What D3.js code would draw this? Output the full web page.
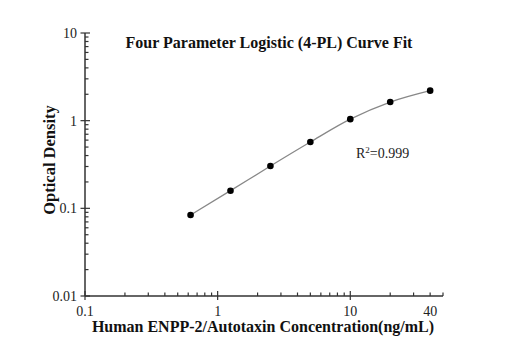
<!DOCTYPE html>
<html><head><meta charset="utf-8">
<script src="https://cdn.jsdelivr.net/npm/d3@7"></script>
<style>body{margin:0;background:#fff}svg{display:block}</style>
</head><body>
<script>
const concentrations = [0.625, 1.25, 2.5, 5, 10, 20, 40];
const odValues = [0.084, 0.159, 0.304, 0.571, 1.04, 1.63, 2.20];
const xTickValues = [0.1, 1, 10, 40];
const yTickValues = [0.01, 0.1, 1, 10];
const xMinorTicks = [0.2,0.3,0.4,0.5,0.6,0.7,0.8,0.9,2,3,4,5,6,7,8,9,20,30,40,50];
const yMinorTicks = [];
[0.01,0.1,1].forEach(d=>{for(let k=2;k<=9;k++) yMinorTicks.push(+(d*k).toPrecision(3));});
const titleText = "Four Parameter Logistic (4-PL) Curve Fit";
const xTitle = "Human ENPP-2/Autotaxin Concentration(ng/mL)";
const yTitle = "Optical Density";
const r2Text = "0.999";

const W=512,H=355;
const svg=d3.select("body").append("svg").attr("width",W).attr("height",H);
const x=d3.scaleLog().domain([0.1,50]).range([85,443]);
const y=d3.scaleLog().domain([0.01,10]).range([296,33]);
const axisColor="#333";
const serif="'Liberation Serif','Times New Roman',serif";

svg.append("line").attr("x1",x(0.1)).attr("x2",x(50)).attr("y1",296).attr("y2",296).attr("stroke",axisColor).attr("stroke-width",1.5);
svg.append("line").attr("x1",85).attr("x2",85).attr("y1",y(0.01)).attr("y2",y(10)).attr("stroke",axisColor).attr("stroke-width",1.5);

svg.selectAll(".xminor").data(xMinorTicks).join("line")
  .attr("x1",d=>x(d)).attr("x2",d=>x(d)).attr("y1",296).attr("y2",292.5)
  .attr("stroke",axisColor).attr("stroke-width",1.2);
svg.selectAll(".xmajor").data([0.1,1,10]).join("line")
  .attr("x1",d=>x(d)).attr("x2",d=>x(d)).attr("y1",291).attr("y2",300)
  .attr("stroke",axisColor).attr("stroke-width",1.2);
svg.selectAll(".xlab").data(xTickValues).join("text")
  .attr("x",d=>x(d)).attr("y",316).attr("text-anchor","middle")
  .attr("font-family",serif).attr("font-size",14).attr("fill","#222")
  .text(d=>d3.format("~g")(d));

svg.selectAll(".yminor").data(yMinorTicks).join("line")
  .attr("y1",d=>y(d)).attr("y2",d=>y(d)).attr("x1",85).attr("x2",88.5)
  .attr("stroke",axisColor).attr("stroke-width",1.2);
svg.selectAll(".ymajor").data(yTickValues).join("line")
  .attr("y1",d=>y(d)).attr("y2",d=>y(d)).attr("x1",80.5).attr("x2",90)
  .attr("stroke",axisColor).attr("stroke-width",1.2);
svg.selectAll(".ylab").data(yTickValues).join("text")
  .attr("x",77).attr("y",d=>y(d)+5).attr("text-anchor","end")
  .attr("font-family",serif).attr("font-size",14).attr("fill","#222")
  .text(d=>d3.format("~g")(d));

const pts=concentrations.map((c,i)=>[c,odValues[i]]);
svg.append("path").datum(pts)
  .attr("d",d3.line().x(d=>x(d[0])).y(d=>y(d[1])).curve(d3.curveMonotoneX))
  .attr("fill","none").attr("stroke","#888").attr("stroke-width",1.3);
svg.selectAll(".pt").data(pts).join("circle")
  .attr("cx",d=>x(d[0])).attr("cy",d=>y(d[1])).attr("r",3.3).attr("fill","#000");

svg.append("text").attr("x",269).attr("y",48).attr("text-anchor","middle")
  .attr("font-family",serif).attr("font-weight","bold").attr("font-size",16).attr("fill","#111")
  .text(titleText);
svg.append("text").attr("x",263).attr("y",332).attr("text-anchor","middle")
  .attr("font-family",serif).attr("font-weight","bold").attr("font-size",16).attr("fill","#111")
  .text(xTitle);
svg.append("text").attr("transform","translate(55,160) rotate(-90)").attr("text-anchor","middle")
  .attr("font-family",serif).attr("font-weight","bold").attr("font-size",16.5).attr("fill","#111")
  .text(yTitle);
const r2=svg.append("text").attr("x",356).attr("y",158).attr("font-family",serif).attr("font-size",14).attr("fill","#222");
r2.append("tspan").text("R");
r2.append("tspan").attr("dy",-5).attr("font-size",9).text("2");
r2.append("tspan").attr("dy",5).text("="+r2Text);
</script>
</body></html>
